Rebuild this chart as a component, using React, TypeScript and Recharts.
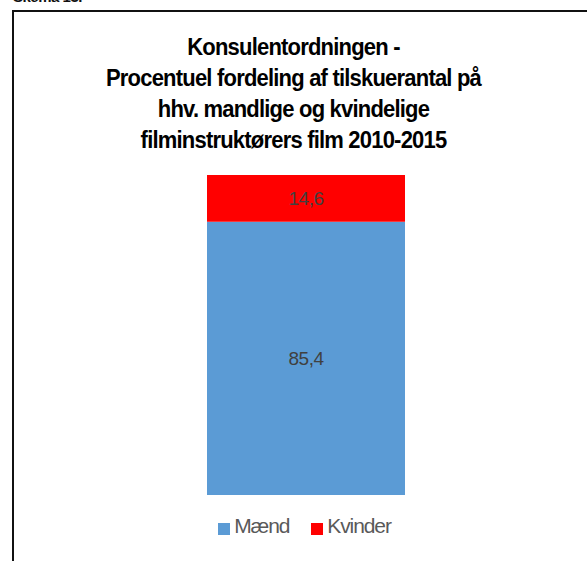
import React from 'react';
import { BarChart, Bar, XAxis, YAxis, Legend, LabelList } from 'recharts';

const categories = ['2010-2015'];
const maendValues = [85.4];
const kvinderValues = [14.6];
const seriesNames = ['Mænd', 'Kvinder'];
const titleLines = [
  'Konsulentordningen -',
  'Procentuel fordeling af tilskuerantal på',
  'hhv. mandlige og kvindelige',
  'filminstruktørers film 2010-2015',
];

const data = categories.map((c, i) => ({ name: c, maend: maendValues[i], kvinder: kvinderValues[i] }));

const fmt = (v: any) => (typeof v === 'number' ? v.toFixed(1).replace('.', ',') : v);

export default function App() {
  return (
    <div style={{ position: 'absolute', left: 0, top: 0, width: 587, height: 561, overflow: 'hidden', background: '#fff', fontFamily: '"Liberation Sans", Arial, sans-serif' }}>
      <div style={{ position: 'absolute', left: 13, top: -11, fontSize: 15, fontWeight: 'bold', lineHeight: '16px', color: '#111', letterSpacing: -0.5 }}>Skema 13.</div>
      <div style={{ position: 'absolute', left: 12, top: 10, width: 600, height: 600, borderLeft: '2px solid #111', borderTop: '2px solid #111' }} />
      <div style={{ position: 'absolute', left: 0, top: 31, width: 587, textAlign: 'center', fontSize: 22, fontWeight: 'bold', lineHeight: '31px', color: '#000', letterSpacing: -0.8 }}>
        {titleLines.map((l, i) => (
          <div key={i} style={{ transform: 'scaleY(1.08)' }}>{l}</div>
        ))}
      </div>
      <div style={{ position: 'absolute', left: 0, top: 0 }}>
        <BarChart width={587} height={561} data={data} margin={{ top: 175, left: 207, right: 182, bottom: 42 }} barCategoryGap={0}>
          <XAxis dataKey="name" hide />
          <YAxis hide domain={[0, 100]} />
          <Legend
            verticalAlign="bottom"
            iconType="square"
            iconSize={12}
            itemSorter={(item: any) => (item.value === seriesNames[0] ? 0 : 1)}
            wrapperStyle={{ top: 514, left: 22, width: 587 }}
            formatter={(value: any) => (
              <span style={{ color: '#595959', fontSize: 21, letterSpacing: -1.1, marginRight: 12 }}>{value}</span>
            )}
          />
          <Bar dataKey="maend" name={seriesNames[0]} stackId="a" fill="#5B9BD5" isAnimationActive={false}>
            <LabelList dataKey="maend" position="center" formatter={fmt} fill="#404040" fontSize={19} letterSpacing={-0.5} />
          </Bar>
          <Bar dataKey="kvinder" name={seriesNames[1]} stackId="a" fill="#FF0000" isAnimationActive={false}>
            <LabelList dataKey="kvinder" position="center" formatter={fmt} fill="#404040" fontSize={19} letterSpacing={-0.5} />
          </Bar>
        </BarChart>
      </div>
    </div>
  );
}
